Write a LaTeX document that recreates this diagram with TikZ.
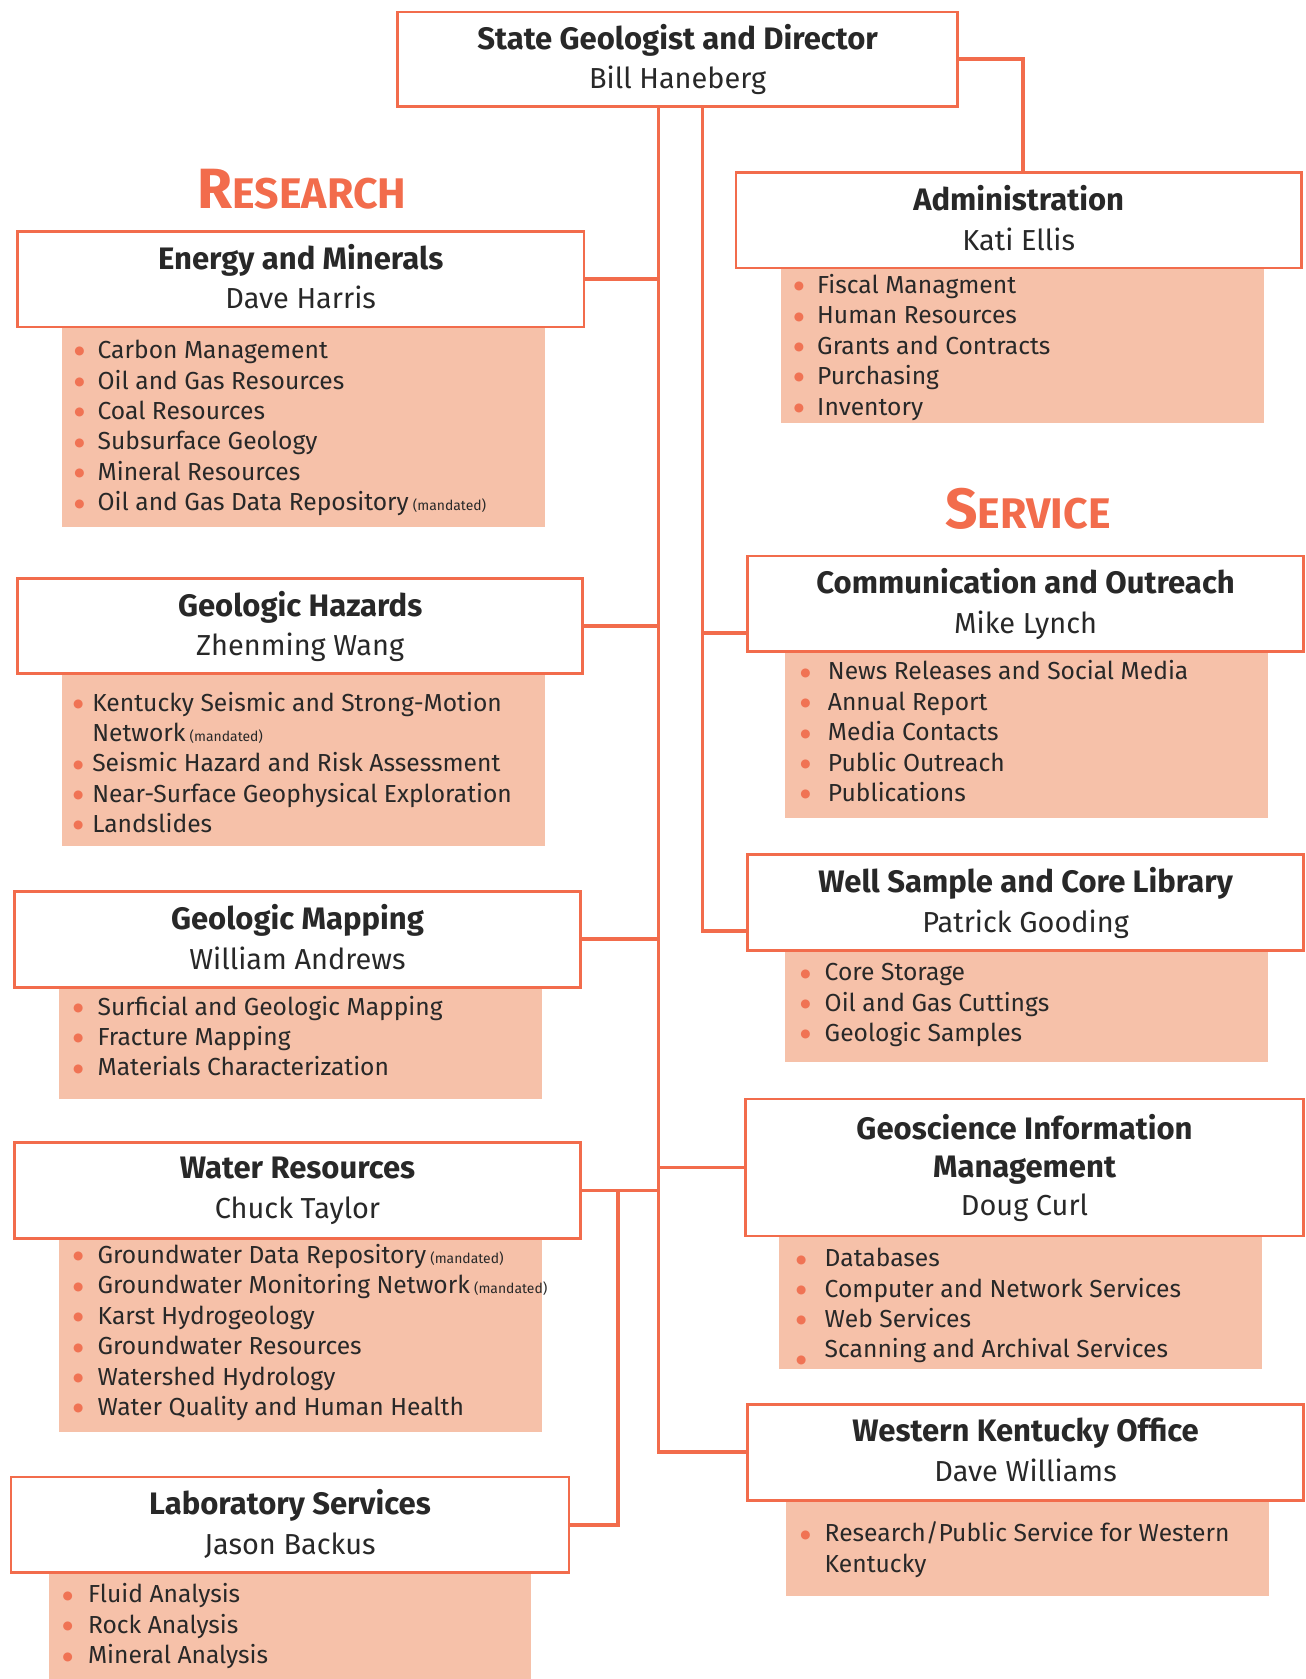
\documentclass[tikz,border=0pt]{standalone}
\usepackage{fontspec}
\setmainfont{Fira Sans}
\newfontfamily\dotfont{DejaVu Sans}
\usetikzlibrary{backgrounds}

\definecolor{kgsorange}{RGB}{242,108,76}
\definecolor{kgspeach}{RGB}{246,193,169}
\definecolor{kgsdot}{RGB}{240,115,84}
\definecolor{kgstext}{RGB}{40,40,40}

% bullet hanging to the left of an item, \dotgap = distance bullet centre -> text
\newlength\dotgap
\newcommand\dotmark{\raisebox{3.5pt}{\dotfont\fontsize{11}{11}\selectfont\textcolor{kgsdot}{●}}}
\newcommand\duty[1]{\llap{\makebox[0pt][c]{\dotmark}\hspace{\dotgap}}#1}
\newcommand\dutylow[1]{\llap{\makebox[0pt][c]{\raisebox{-9pt}{\dotmark}}\hspace{\dotgap}}#1}
\newcommand\mandated{\,{\fontsize{13}{13}\selectfont(mandated)}}
\newcommand\ttl[1]{{\bfseries\fontsize{29}{37}\selectfont #1}}
% name line with a fixed depth, so every box centres its two lines alike
\newcommand\nm[1]{\raisebox{0pt}[\height][5pt]{#1}}
\newcommand\unit[2]{\ttl{#1}\\\nm{#2}}

\tikzset{
  unitbox/.style={draw=kgsorange, line width=2.6pt, fill=white, anchor=north west,
    inner sep=0pt, align=center, text=kgstext, font=\fontsize{27}{37}\selectfont},
  duties/.style={fill=kgspeach, anchor=north west, inner sep=0pt},
  itemtext/.style={anchor=base west, inner sep=0pt, text=kgstext,
    font=\fontsize{23}{28.4}\selectfont},
  link/.style={draw=kgsorange, line width=3.6pt},
  branchhead/.style={anchor=base, inner sep=0pt, text=kgsorange, font=\bfseries}
}

\begin{document}
\begin{tikzpicture}[x=1pt,y=-1pt]
\useasboundingbox (0,0) rectangle (1219,1568);

% spine positions
\coordinate (sp1) at (615,0);
\coordinate (sp2) at (656,0);
\coordinate (sp3) at (577,0);

% ---- duty panels (drawn first, the unit boxes sit on their top edge)
\node[duties, minimum width=451pt, minimum height=188pt] (em-f)  at (58,304)  {};
\node[duties, minimum width=451pt, minimum height=162pt] (gh-f)  at (58,628)  {};
\node[duties, minimum width=451pt, minimum height=105pt] (gm-f)  at (55,921)  {};
\node[duties, minimum width=451pt, minimum height=182pt] (wr-f)  at (55,1155) {};
\node[duties, minimum width=450pt, minimum height=101pt] (lab-f) at (46,1467) {};
\node[duties, minimum width=451pt, minimum height=146pt] (adm-f) at (729,249) {};
\node[duties, minimum width=451pt, minimum height=157pt] (com-f) at (733,607) {};
\node[duties, minimum width=451pt, minimum height=106pt] (wsc-f) at (733,886) {};
\node[duties, minimum width=451pt, minimum height=125pt] (gim-f) at (727,1153) {};
\node[duties, minimum width=451pt, minimum height=90pt]  (wko-f) at (734,1400) {};

% ---- unit boxes
\node[unitbox, minimum width=523pt, minimum height=88pt] (dir) at (370,10)
  {\unit{State Geologist and Director}{Bill Haneberg}};
\node[unitbox, minimum width=528pt, minimum height=89pt] (adm) at (686,160)
  {\unit{Administration}{Kati Ellis}};
\node[unitbox, minimum width=529pt, minimum height=89pt] (em) at (15,215)
  {\unit{Energy and Minerals}{Dave Harris}};
\node[unitbox, minimum width=528pt, minimum height=89pt] (gh) at (15,539)
  {\unit{Geologic Hazards}{Zhenming Wang}};
\node[unitbox, minimum width=529pt, minimum height=90pt] (gm) at (12,831)
  {\unit{Geologic Mapping}{William Andrews}};
\node[unitbox, minimum width=529pt, minimum height=89pt] (wr) at (12,1066)
  {\unit{Water Resources}{Chuck Taylor}};
\node[unitbox, minimum width=521pt, minimum height=89pt] (lab) at (9,1378)
  {\unit{Laboratory Services}{Jason Backus}};
\node[unitbox, minimum width=519pt, minimum height=89pt] (com) at (697,518)
  {\unit{Communication and Outreach}{Mike Lynch}};
\node[unitbox, minimum width=519pt, minimum height=89pt] (wsc) at (697,797)
  {\unit{Well Sample and Core Library}{Patrick Gooding}};
\node[unitbox, minimum width=521pt, minimum height=128pt] (gim) at (695,1025)
  {\ttl{Geoscience Information}\\[-1.5pt]\ttl{Management}\\[-1.5pt]\nm{Doug Curl}};
\node[unitbox, minimum width=519pt, minimum height=90pt] (wko) at (697,1310)
  {\unit{Western Kentucky Office}{Dave Williams}};

% ---- branch headings
\node[branchhead] (research) at (282,195)
  {\fontsize{53}{53}\selectfont R\fontsize{40}{40}\selectfont ESEARCH};
\node[branchhead] (service) at (960,494)
  {\fontsize{53}{53}\selectfont S\fontsize{40}{40}\selectfont ERVICE};

% ---- duty lists
\node[itemtext] (em-d) at (91,335) {\setlength\dotgap{17pt}\begin{tabular}[t]{@{}l@{}}
  \duty{Carbon Management}\\
  \duty{Oil and Gas Resources}\\
  \duty{Coal Resources}\\
  \duty{Subsurface Geology}\\
  \duty{Mineral Resources}\\
  \duty{Oil and Gas Data Repository\mandated}
\end{tabular}};
\node[itemtext] (gh-d) at (86,664) {\setlength\dotgap{13pt}\begin{tabular}[t]{@{}l@{}}
  \duty{Kentucky Seismic and Strong-Motion}\\
  Network\mandated\\
  \duty{Seismic Hazard and Risk Assessment}\\
  \duty{Near-Surface Geophysical Exploration}\\
  \duty{Landslides}
\end{tabular}};
\node[itemtext] (gm-d) at (91,948) {\setlength\dotgap{18pt}\begin{tabular}[t]{@{}l@{}}
  \duty{Surficial and Geologic Mapping}\\
  \duty{Fracture Mapping}\\
  \duty{Materials Characterization}
\end{tabular}};
\node[itemtext] (wr-d) at (91,1180) {\setlength\dotgap{18pt}\begin{tabular}[t]{@{}l@{}}
  \duty{Groundwater Data Repository\mandated}\\
  \duty{Groundwater Monitoring Network\mandated}\\
  \duty{Karst Hydrogeology}\\
  \duty{Groundwater Resources}\\
  \duty{Watershed Hydrology}\\
  \duty{Water Quality and Human Health}
\end{tabular}};
\node[itemtext] (lab-d) at (82,1497) {\setlength\dotgap{19pt}\begin{tabular}[t]{@{}l@{}}
  \duty{Fluid Analysis}\\
  \duty{Rock Analysis}\\
  \duty{Mineral Analysis}
\end{tabular}};
\node[itemtext] (adm-d) at (763,274) {\setlength\dotgap{17pt}\begin{tabular}[t]{@{}l@{}}
  \duty{Fiscal Managment}\\
  \duty{Human Resources}\\
  \duty{Grants and Contracts}\\
  \duty{Purchasing}\\
  \duty{Inventory}
\end{tabular}};
\node[itemtext] (com-d) at (773,635) {\setlength\dotgap{21pt}\begin{tabular}[t]{@{}l@{}}
  \duty{News Releases and Social Media}\\
  \duty{Annual Report}\\
  \duty{Media Contacts}\\
  \duty{Public Outreach}\\
  \duty{Publications}
\end{tabular}};
\node[itemtext] (wsc-d) at (770,916) {\setlength\dotgap{18pt}\begin{tabular}[t]{@{}l@{}}
  \duty{Core Storage}\\
  \duty{Oil and Gas Cuttings}\\
  \duty{Geologic Samples}
\end{tabular}};
\node[itemtext] (gim-d) at (770,1183) {\setlength\dotgap{22pt}\begin{tabular}[t]{@{}l@{}}
  \duty{Databases}\\
  \duty{Computer and Network Services}\\
  \duty{Web Services}\\
  \dutylow{Scanning and Archival Services}
\end{tabular}};
\node[itemtext] (wko-d) at (770,1440) {\setlength\dotgap{18pt}\begin{tabular}[t]{@{}l@{}}
  \duty{Research/Public Service for Western}\\
  Kentucky
\end{tabular}};

% ---- reporting lines
\begin{scope}[on background layer]
  \fill[white] (0,0) rectangle (1219,1568);
  \draw[link] (dir.south -| sp1) |- (wko.west);
  \draw[link] (dir.south -| sp2) |- ([yshift=-27pt]wsc.west);
  \draw[link] ([yshift=-27pt]com.west) -- ([yshift=-27pt]com.west -| sp2);
  \draw[link] (gim.west) -- (gim.west -| sp1);
  \draw[link] (em.east) -- (em.east -| sp1);
  \draw[link] (gh.east) -- (gh.east -| sp1);
  \draw[link] (gm.east) -- (gm.east -| sp1);
  \draw[link] (wr.east) -- (wr.east -| sp1);
  \draw[link] (wr.east -| sp3) |- (lab.east);
  \draw[link] (dir.east) -| ([xshift=4pt]adm.north);
\end{scope}
\end{tikzpicture}
\end{document}
